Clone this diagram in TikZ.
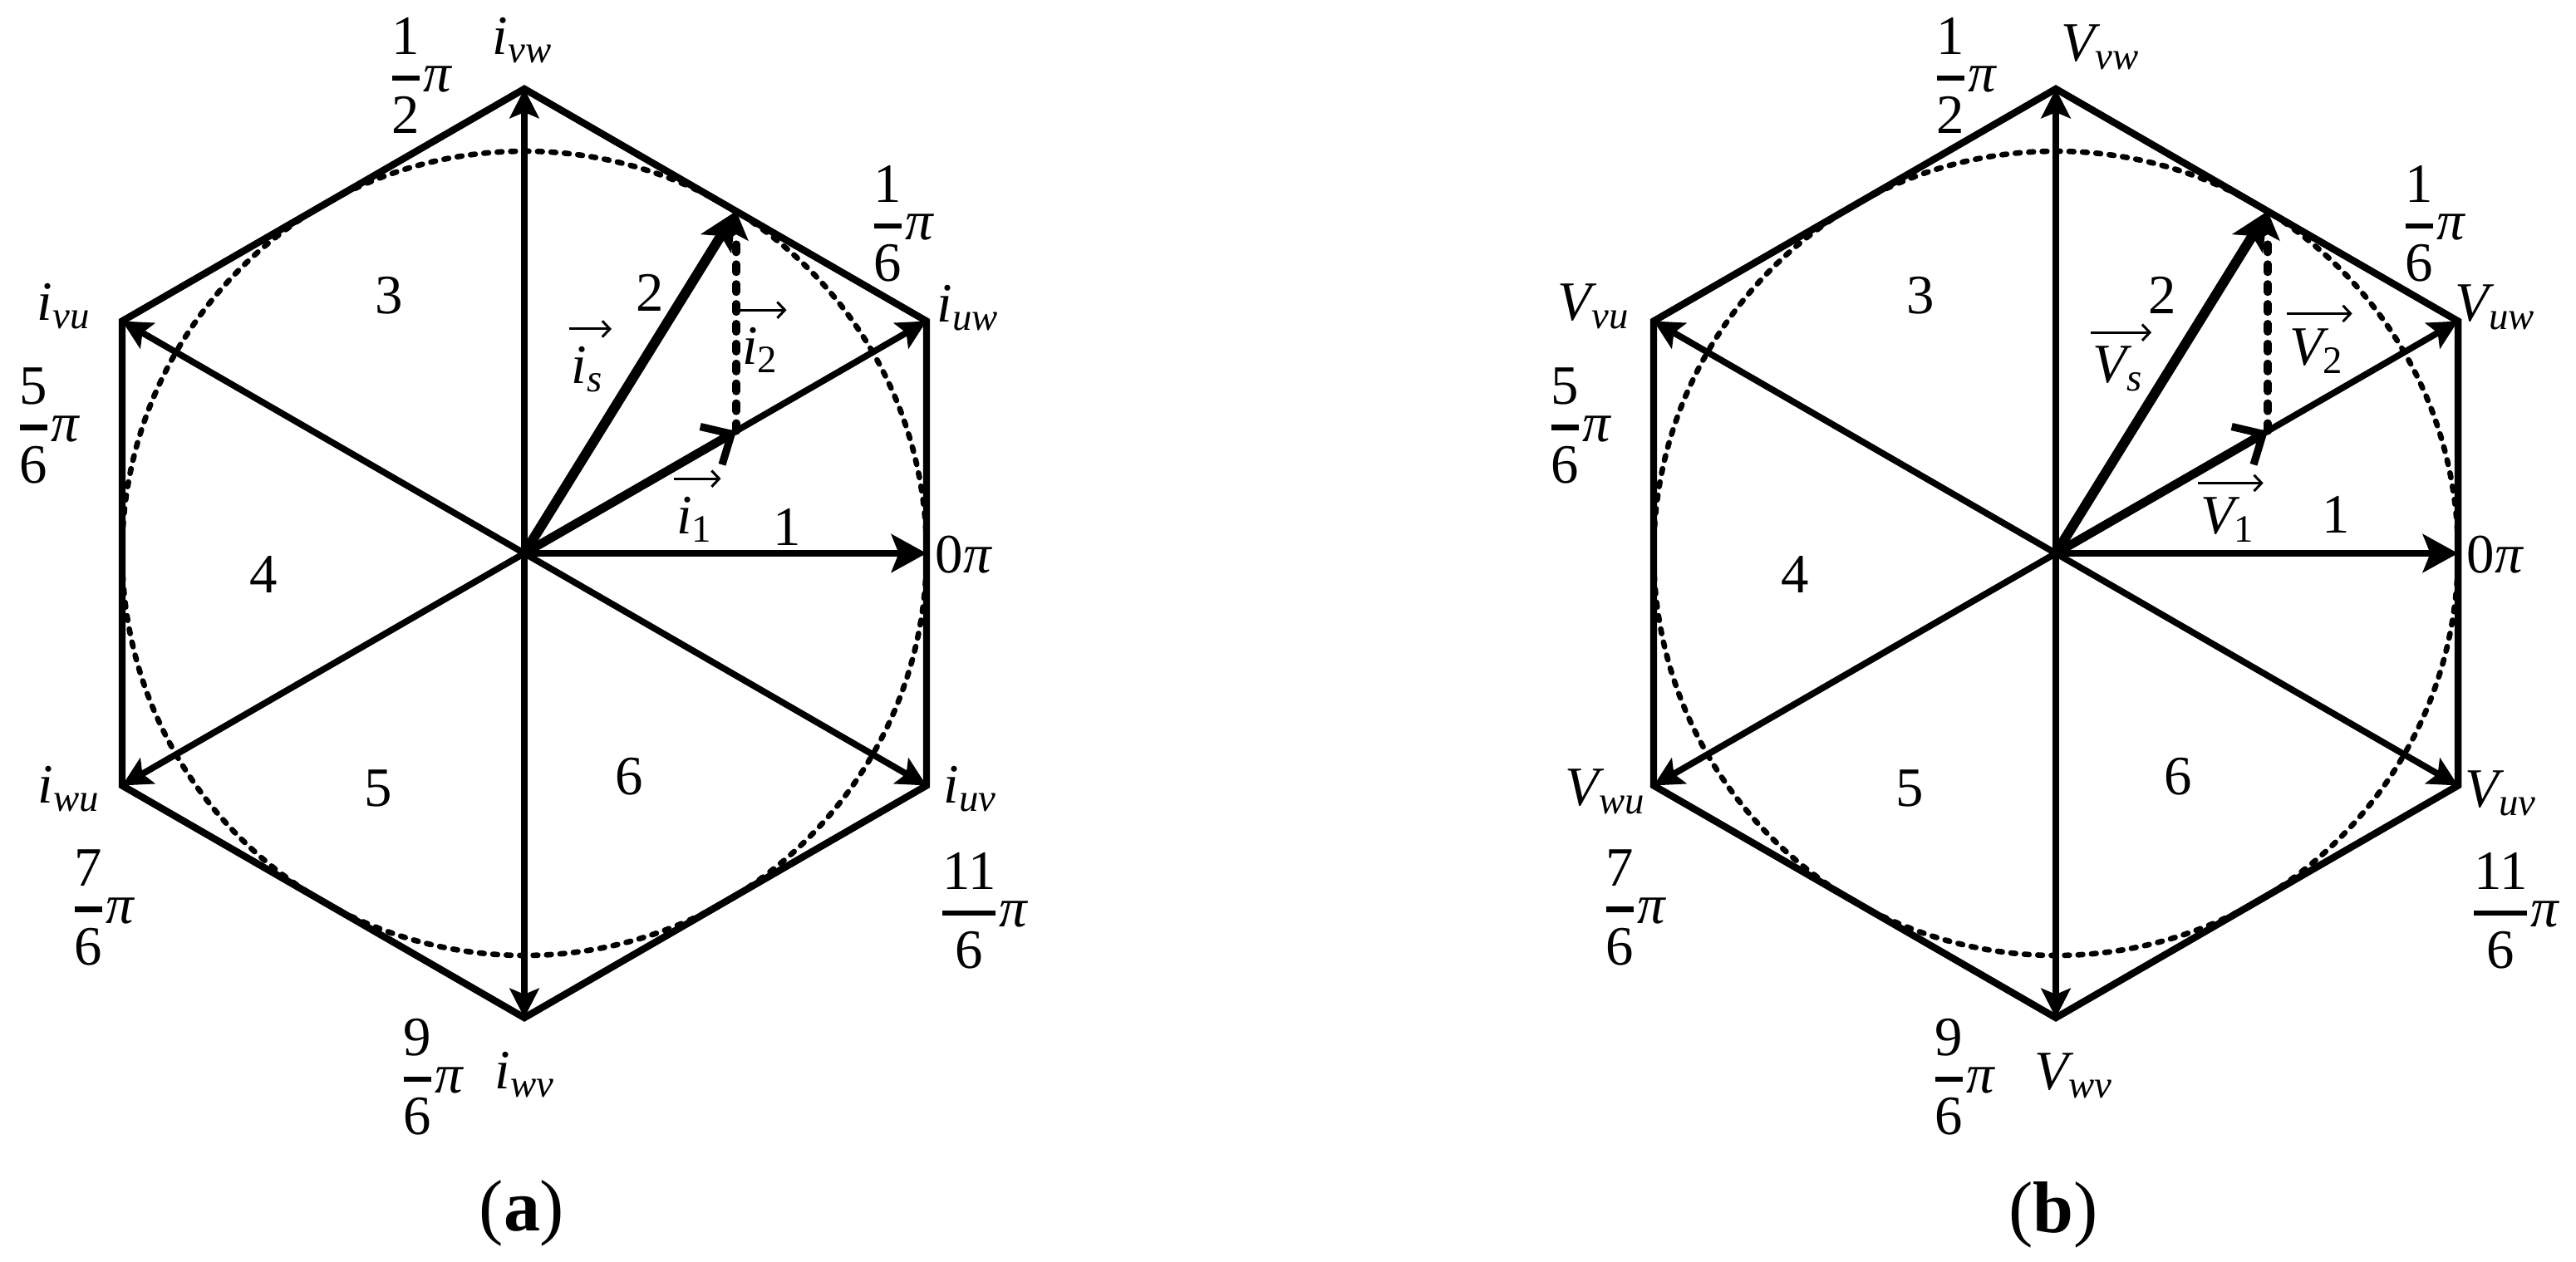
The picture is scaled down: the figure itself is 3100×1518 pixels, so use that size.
\RequirePackage{fix-cm}
\documentclass[tikz,border=0pt]{standalone}
\usepackage{amsmath}
\usepackage{fontspec}
\setmainfont{Liberation Serif}
\usetikzlibrary{arrows.meta}
\newcommand\mi[1]{\text{\itshape #1}}
\newcommand\fr[2]{$\genfrac{}{}{1.8pt}{0}{\text{#1}}{\text{#2}}\mi{π}$}
\tikzset{
  hexline/.style={line width=2.4pt, line join=miter},
  vec/.style={line width=2.2pt, -{Stealth[length=10pt,width=10pt,inset=2pt]}},
  bigvec/.style={line width=2.3pt, -{Stealth[length=12pt,width=13pt,inset=2.5pt]}},
  svec/.style={line width=3.4pt, -{Stealth[length=13pt,width=12pt,inset=3pt]}},
  comp1/.style={line width=3pt, -{Straight Barb[length=8pt,width=15pt,line width=2.6pt]}},
  comp2/.style={line width=2.6pt, dash pattern=on 2.8pt off 4pt, line cap=round, -{Stealth[length=10pt,width=8pt,inset=2pt]}},
  dashcirc/.style={line width=1.9pt, dash pattern=on 1.6pt off 3pt, line cap=round},
  overarrow/.style={line width=0.85pt, -{Straight Barb[length=2.6pt,width=5.5pt,line width=0.85pt]}},
  lab/.style={inner sep=0pt, font=\fontsize{19}{23}\selectfont},
  captxt/.style={inner sep=0pt, font=\fontsize{25}{30}\selectfont}
}
% arrow above a vector label: #1 node name, #2 height above the node top
\newcommand\vecover[2]{%
  \draw[overarrow] ([shift={(-2,-#2)}]#1.north west) -- ([shift={(9,-#2)}]#1.north east);}
\newcommand\drawpanel[1]{%
  \coordinate (#1O) at (0,0);
  \coordinate (#1T) at (0,-559);
  \coordinate (#1UR) at (484,-279.5);
  \coordinate (#1LR) at (484,279.5);
  \coordinate (#1B) at (0,559);
  \coordinate (#1LL) at (-484,279.5);
  \coordinate (#1UL) at (-484,-279.5);
  \coordinate (#1Z) at (484,0);
  \coordinate (#1S) at (255,-412);
  \coordinate (#1M) at (255,-147);
  \draw[dashcirc] (#1O) circle[radius=484];
  \draw[hexline] (#1T) -- (#1UR) -- (#1LR) -- (#1B) -- (#1LL) -- (#1UL) -- cycle;
  \foreach \q in {T,UR,LR,B,LL,UL} \draw[vec] (#1O) -- (#1\q);
  \draw[bigvec] (#1O) -- (#1Z);
  \draw[comp1] (#1O) -- (#1M);
  \draw[comp2] (#1M) -- (#1S);
  \draw[svec] (#1O) -- (#1S);
  \node[lab] (#1f16) at (454,-397) {\fr{1}{6}};
  \node[lab, anchor=west] (#1f0) at (494,2) {0\textit{π}};
  \node[lab] (#1f56) at (-574,-154) {\fr{5}{6}};
  \node[lab] (#1f76) at (-508,426) {\fr{7}{6}};
  \node[lab] (#1f96) at (-112,630) {\fr{9}{6}};
  \node[lab] (#1f116) at (552,430) {\fr{11}{6}};
  \node[lab] (#1n3) at (-163,-310) {3};
  \node[lab] (#1n4) at (-314,26) {4};
  \node[lab] (#1n5) at (-176,283) {5};
}
\begin{document}
\begin{tikzpicture}[x=0.01cm,y=-0.01cm]
\useasboundingbox (0,0) rectangle (3100,1518);
% ---------- panel (a)
\begin{scope}[shift={(631,666)}]
  \drawpanel{a}
  \node[lab] (af12) at (-126,-575) {\fr{1}{2}};
  \node[lab] (an1) at (316,-32) {1};
  \node[lab] (an2) at (151,-314) {2};
  \node[lab] (an6) at (126,269) {6};
  \node[lab] (aivw) at (-2,-617) {$\mi{i}_{\mi{vw}}$};
  \node[lab] (aiuw) at (534,-295) {$\mi{i}_{\mi{uw}}$};
  \node[lab] (aivu) at (-554,-297) {$\mi{i}_{\mi{vu}}$};
  \node[lab] (aiwu) at (-548,284) {$\mi{i}_{\mi{wu}}$};
  \node[lab] (aiuv) at (537,284) {$\mi{i}_{\mi{uv}}$};
  \node[lab] (aiwv) at (1,628) {$\mi{i}_{\mi{wv}}$};
  \node[lab] (ais) at (76,-221) {$\mi{i}_{\mi{s}}$};
  \node[lab] (ai2) at (284,-245) {$\mi{i}_{\text{2}}$};
  \node[lab] (ai1) at (205,-41) {$\mi{i}_{\text{1}}$};
  \vecover{ais}{21}
  \vecover{ai2}{20}
  \vecover{ai1}{21}
\end{scope}
\node[captxt] (capa) at (628,1460) {(\textbf{a})};
% ---------- panel (b)
\begin{scope}[shift={(2474,666)}]
  \drawpanel{b}
  \node[lab] (bf12) at (-110,-575) {\fr{1}{2}};
  \node[lab] (bn1) at (337,-47) {1};
  \node[lab] (bn2) at (128,-311) {2};
  \node[lab] (bn6) at (147,269) {6};
  \node[lab] (bvvw) at (54,-609) {$\mi{V}_{\mi{vw}}$};
  \node[lab] (bvuw) at (529,-296) {$\mi{V}_{\mi{uw}}$};
  \node[lab] (bvvu) at (-556,-297) {$\mi{V}_{\mi{vu}}$};
  \node[lab] (bvwu) at (-542,287) {$\mi{V}_{\mi{wu}}$};
  \node[lab] (bvuv) at (536,289) {$\mi{V}_{\mi{uv}}$};
  \node[lab] (bvwv) at (22,629) {$\mi{V}_{\mi{wv}}$};
  \node[lab] (bvs) at (75,-222) {$\mi{V}_{\mi{s}}$};
  \node[lab] (bv2) at (314,-243) {$\mi{V}_{\text{2}}$};
  \node[lab] (bv1) at (207,-40) {$\mi{V}_{\text{1}}$};
  \vecover{bvs}{16}
  \vecover{bv2}{18}
  \vecover{bv1}{17}
\end{scope}
\node[captxt] (capb) at (2471,1462) {(\textbf{b})};
\end{tikzpicture}
\end{document}
